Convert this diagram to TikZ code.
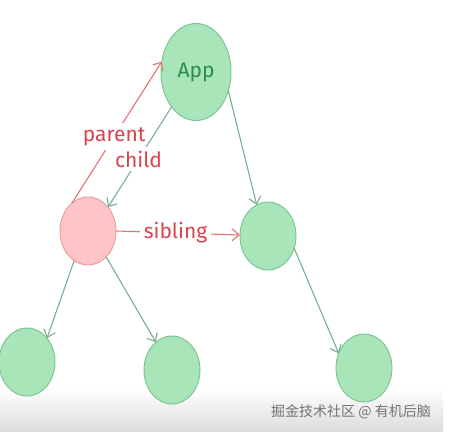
\documentclass[tikz,border=0pt]{standalone}
\usepackage{fontspec}
\setsansfont{Fira Sans}
\newfontfamily\cjk{Noto Sans CJK SC}
\usetikzlibrary{arrows.meta,shapes.geometric}
\definecolor{leaf}{HTML}{A8E6BA}
\definecolor{leafline}{HTML}{7CC592}
\definecolor{rose}{HTML}{FFC4C6}
\definecolor{roseline}{HTML}{E8A0A4}
\definecolor{ink}{HTML}{D9434D}
\definecolor{stem}{HTML}{78AE92}
\definecolor{appink}{HTML}{2F8A4F}
\begin{document}
\begin{tikzpicture}[x=1pt, y=-1pt, >={Straight Barb[length=7pt,width=12pt]},
    leafnode/.style={ellipse, draw=leafline, fill=leaf, line width=1pt, outer sep=0pt,
        inner sep=0pt, minimum width=56pt, minimum height=68pt},
    selfnode/.style={leafnode, draw=roseline, fill=rose},
    stemline/.style={->, draw=stem, line width=1.1pt},
    inkline/.style={->, draw=ink!75, line width=1.1pt},
    inklabel/.style={fill=white, text=ink, inner sep=4pt, font=\sffamily\fontsize{21}{21}\selectfont}]
    \useasboundingbox (0,0) rectangle (451,432);
    % watermark band
    \shade[top color=white, bottom color=black!14] (0,388) rectangle (443,432);
    \node[text=black!55, font=\cjk\fontsize{14}{14}\selectfont] (mark) at (351,412) {掘金技术社区 @ 有机后脑};
    % nodes
    \node[leafnode, minimum width=70pt, minimum height=97pt] (app) at (196,72)
        {\sffamily\fontsize{21}{21}\selectfont\color{appink}App};
    \node[selfnode] (self) at (88,231) {};
    \node[leafnode] (sib) at (268,236) {};
    \foreach \name/\x/\y in {kidA/27/362, kidB/172/370, kidC/364/368}
    {
        \node[leafnode] (\name) at (\x,\y) {};
    }
    % connectors
    \draw[inkline] (self.120) -- (app.163) node[inklabel, pos=.47] (parent) {parent};
    \draw[stemline] (app.235) -- (self.50) node[inklabel, pos=.52] (child) {child};
    \draw[inkline] (self.0) -- (sib.178) node[inklabel, pos=.48] (sibling) {sibling};
    \draw[stemline] (app.-30) -- (sib.110);
    \draw[stemline] (self.-115) -- (kidA.50);
    \draw[stemline] (self.-55) -- (kidB.120);
    \draw[stemline] (sib.-25) -- (kidC.150);
\end{tikzpicture}
\end{document}
